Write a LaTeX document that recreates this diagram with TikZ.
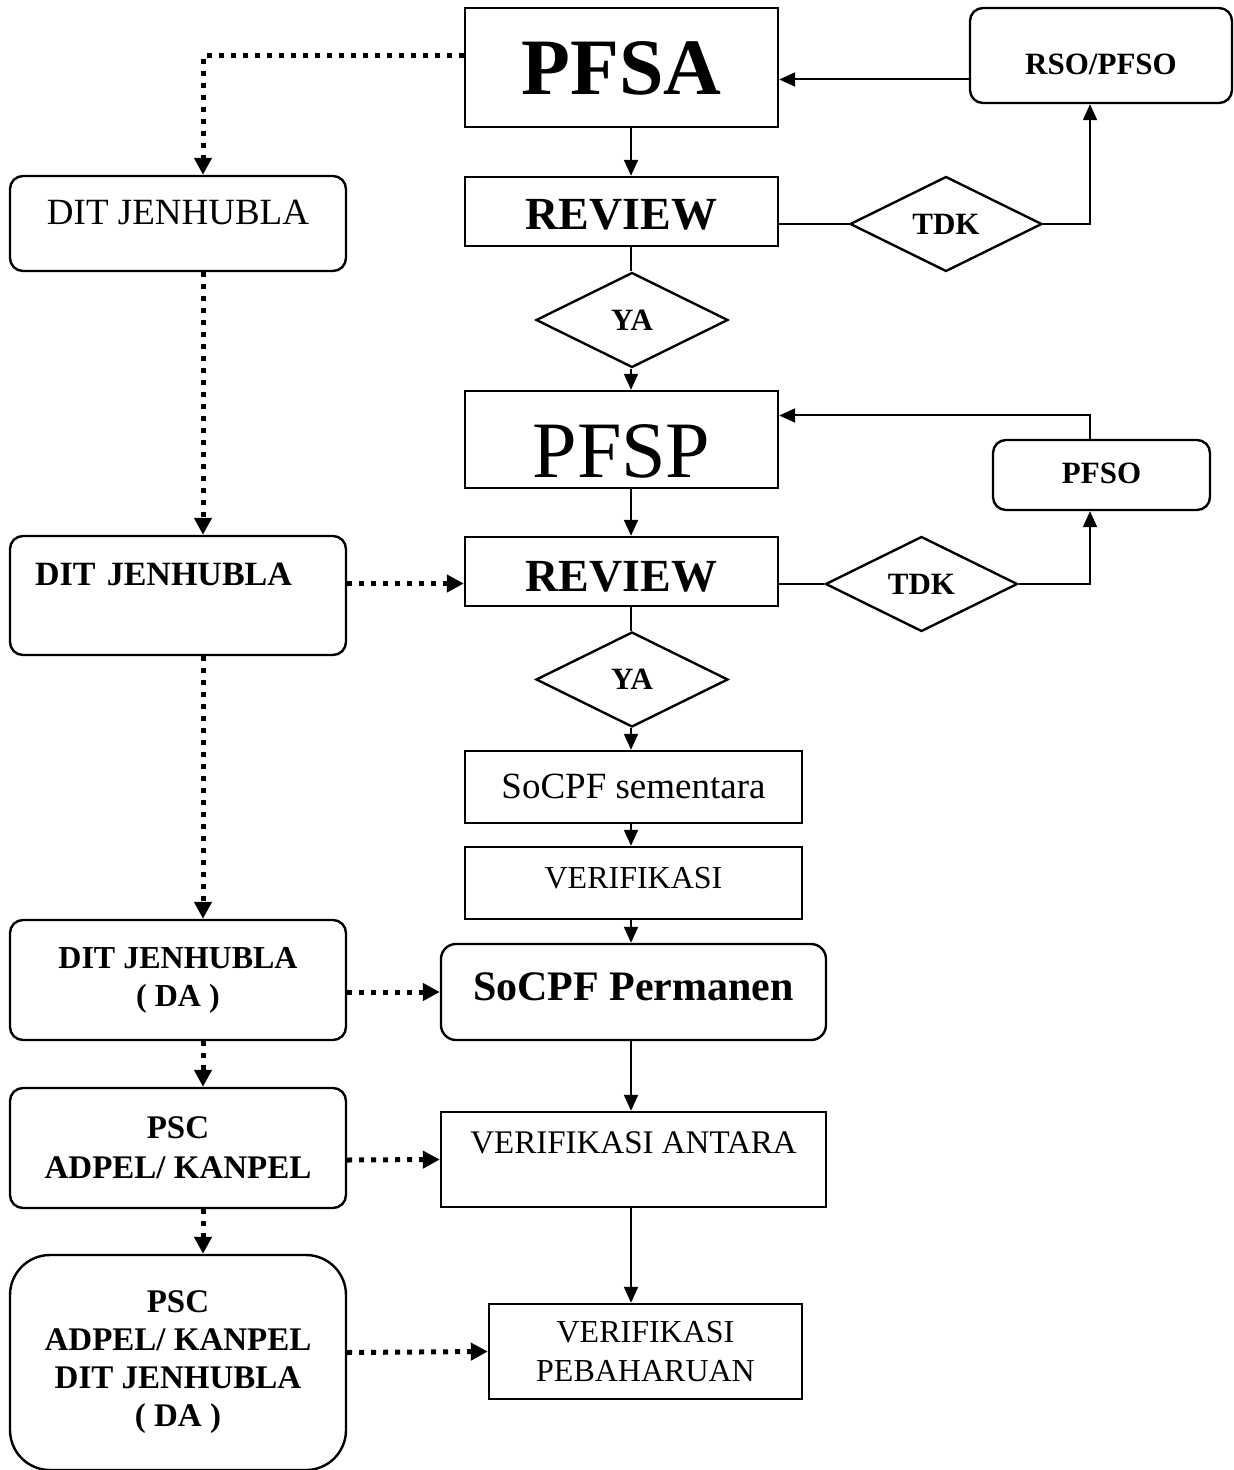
\documentclass[tikz,border=0pt]{standalone}
\usepackage{fontspec}
\setmainfont{Liberation Serif}
\usetikzlibrary{arrows.meta,shapes.geometric}

\begin{document}
\begin{tikzpicture}[x=0.5pt, y=-0.5pt,
	procbox/.style={draw, line width=1.2pt, inner sep=0pt, align=center},
	roundbox/.style={procbox, rounded corners=6.5pt},
	choice/.style={draw, diamond, aspect=2, line width=1.2pt, inner sep=0pt, minimum width=96pt, minimum height=47.5pt, font=\bfseries\fontsize{15.5}{18}\selectfont},
	flowline/.style={line width=1pt},
	flowarrow/.style={line width=1pt, -{Triangle[length=8pt,width=7pt]}},
	dotarrow/.style={line width=2.5pt, dash pattern=on 2.5pt off 3.5pt, -{Triangle[length=8.5pt,width=8.5pt]}}]
	\useasboundingbox (0,0) rectangle (1234,1470);
	\coordinate (spine) at (631,0);
	\coordinate (lspine) at (203,0);
	\coordinate (rspine) at (1090,0);

	%main column
	\node[procbox, minimum width=156.5pt, minimum height=59.5pt, text height=43.5pt, text depth=16pt, font=\bfseries\fontsize{40}{48}\selectfont] (pfsa) at (621.5,67.5) {PFSA};
	\node[procbox, minimum width=156.5pt, minimum height=34.5pt, text height=26.5pt, text depth=8pt, font=\bfseries\fontsize{23}{28}\selectfont] (rev1) at (621.5,211.5) {REVIEW};
	\node[choice] (ya1) at (632,320) {YA};
	\node[procbox, minimum width=156.5pt, minimum height=48.5pt, text height=43pt, text depth=5.5pt, font=\fontsize{40}{48}\selectfont] (pfsp) at (621.5,439.5) {PFSP};
	\node[procbox, minimum width=156.5pt, minimum height=34.5pt, text height=27pt, text depth=7.5pt, font=\bfseries\fontsize{23}{28}\selectfont] (rev2) at (621.5,571.5) {REVIEW};
	\node[choice] (ya2) at (632,679.5) {YA};
	\node[procbox, minimum width=168.5pt, minimum height=36pt, text height=23.5pt, text depth=12.5pt, font=\fontsize{18.5}{22}\selectfont] (socs) at (633.5,787) {SoCPF sementara};
	\node[procbox, minimum width=168.5pt, minimum height=36pt, text height=20.5pt, text depth=15.5pt, font=\fontsize{16}{19}\selectfont] (ver) at (633.5,883) {VERIFIKASI};
	\node[roundbox, rounded corners=7.5pt, minimum width=192.5pt, minimum height=48pt, text height=28pt, text depth=20pt, font=\bfseries\fontsize{21}{25}\selectfont] (socp) at (633.5,992) {SoCPF Permanen};
	\node[procbox, minimum width=192.5pt, minimum height=47.5pt, text height=20.5pt, text depth=27pt, font=\fontsize{16.5}{19}\selectfont] (vera) at (633.5,1159.5) {VERIFIKASI ANTARA};
	\node[procbox, minimum width=156.5pt, minimum height=47.5pt, font=\fontsize{16}{19.5}\selectfont] (verp) at (645.5,1351.5) {VERIFIKASI\\PEBAHARUAN};

	%right column
	\node[roundbox, minimum width=131pt, minimum height=47.5pt, text height=33.5pt, text depth=14pt, font=\bfseries\fontsize{15.5}{18}\selectfont] (rso) at (1101,55.5) {RSO/PFSO};
	\node[choice] (tdk1) at (946,224) {TDK};
	\node[roundbox, minimum width=108.5pt, minimum height=35pt, text height=21.5pt, text depth=13.5pt, font=\bfseries\fontsize{15.5}{18}\selectfont] (pfso) at (1101.5,475) {PFSO};
	\node[choice] (tdk2) at (921.5,584) {TDK};

	%left column
	\node[roundbox, minimum width=168pt, minimum height=47.5pt, text height=24.5pt, text depth=23pt, font=\fontsize{18.5}{22}\selectfont] (dit1) at (178,223.5) {DIT JENHUBLA};
	\node[roundbox, minimum width=168pt, minimum height=59.5pt, text width=143pt, align=left, text height=24.5pt, text depth=35pt, font=\bfseries\fontsize{17}{20}\selectfont] (dit2) at (178,595.5) {DIT JENHUBLA};
	\node[roundbox, minimum width=168pt, minimum height=60pt, font=\bfseries\fontsize{16}{19}\selectfont] (dit3) at (178,980) {DIT JENHUBLA\\( DA )};
	\node[roundbox, minimum width=168pt, minimum height=60pt, font=\bfseries\fontsize{16.5}{20}\selectfont] (psc) at (178,1148) {PSC\\ADPEL/ KANPEL};
	\node[roundbox, rounded corners=20pt, minimum width=168pt, minimum height=107.5pt, font=\bfseries\fontsize{16.5}{19}\selectfont] (pscd) at (178,1362.5) {PSC\\ADPEL/ KANPEL\\DIT JENHUBLA\\( DA )};

	%solid flow
	\draw[flowarrow] (pfsa.south -| spine) -- (rev1.north -| spine);
	\draw[flowline] ([yshift=-6.25pt]rev1.east) -- (tdk1.west);
	\draw[flowarrow] (tdk1.east) -| (rso.south -| rspine);
	\draw[flowarrow] ([yshift=-12pt]rso.west) -- ([yshift=-6pt]pfsa.east);
	\draw[flowline] (rev1.south -| spine) -- (ya1.north -| spine);
	\draw[flowarrow] (ya1.south -| spine) -- (pfsp.north -| spine);
	\draw[flowarrow] (pfsp.south -| spine) -- (rev2.north -| spine);
	\draw[flowline] ([yshift=-6.25pt]rev2.east) -- (tdk2.west);
	\draw[flowarrow] (tdk2.east) -| (pfso.south -| rspine);
	\draw[flowarrow] (pfso.north -| rspine) |- ([yshift=12pt]pfsp.east);
	\draw[flowline] (rev2.south -| spine) -- (ya2.north -| spine);
	\draw[flowarrow] (ya2.south -| spine) -- (socs.north -| spine);
	\draw[flowarrow] (socs.south -| spine) -- (ver.north -| spine);
	\draw[flowarrow] (ver.south -| spine) -- (socp.north -| spine);
	\draw[flowarrow] (socp.south -| spine) -- (vera.north -| spine);
	\draw[flowarrow] (vera.south -| spine) -- (verp.north -| spine);

	%dotted flow
	\draw[dotarrow] ([yshift=6pt]pfsa.west) -| (dit1.north -| lspine);
	\draw[dotarrow] (dit1.south -| lspine) -- (dit2.north -| lspine);
	\draw[dotarrow] ([yshift=6pt]dit2.east) -- ([yshift=-6pt]rev2.west);
	\draw[dotarrow] (dit2.south -| lspine) -- (dit3.north -| lspine);
	\draw[dotarrow] ([yshift=-6pt]dit3.east) -- (socp.west);
	\draw[dotarrow] (dit3.south -| lspine) -- (psc.north -| lspine);
	\draw[dotarrow] ([yshift=-6pt]psc.east) -- (vera.west);
	\draw[dotarrow] (psc.south -| lspine) -- (pscd.north -| lspine);
	\draw[dotarrow] ([yshift=5pt]pscd.east) -- (verp.west);
\end{tikzpicture}
\end{document}
